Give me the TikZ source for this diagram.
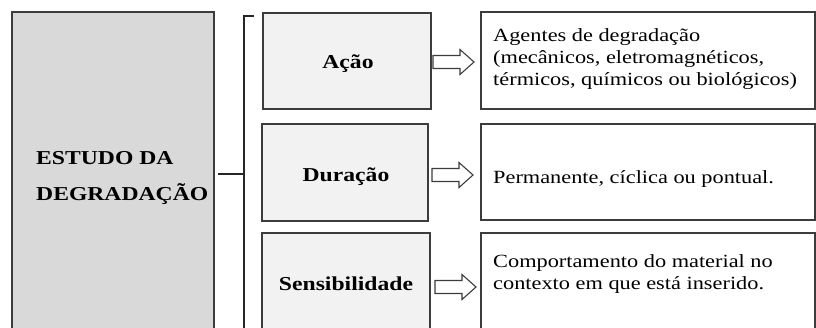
\documentclass[tikz,border=0pt]{standalone}
\usepackage{fontspec}
\setmainfont{Liberation Serif}[FakeStretch=1.2]
\definecolor{leftfill}{HTML}{D9D9D9}
\definecolor{midfill}{HTML}{F2F2F2}
\definecolor{edgecol}{HTML}{3C3C3C}
\begin{document}
\begin{tikzpicture}[x=1pt,y=-1pt,
  box/.style={draw=edgecol, line width=1.3pt, inner sep=0pt},
  mainbox/.style={box, fill=leftfill},
  catbox/.style={box, fill=midfill},
  descbox/.style={box, fill=white},
  cattext/.style={font=\fontsize{19.7}{23}\selectfont\bfseries, inner sep=0pt, anchor=base},
  maintext/.style={font=\fontsize{19.7}{36}\selectfont\bfseries, inner sep=0pt, align=left, anchor=base west},
  desctext/.style={font=\fontsize{18.6}{21.8}\selectfont, inner sep=0pt, align=left, anchor=base west},
  arrowline/.style={draw=edgecol, line width=1.1pt, fill=white, line join=miter},
  link/.style={draw=black!85, line width=1.3pt}]
\clip (0,0) rectangle (816,327);
% left box
\node[mainbox, minimum width=202pt, minimum height=350pt] (main) at (113,187) {};
\node[maintext] (mainlbl) at (36,200) {ESTUDO DA\\DEGRADAÇÃO};
% bracket
\coordinate (btop) at (244,16);
\coordinate (btick) at (254,16);
\coordinate (bbot) at (244,340);
\coordinate (bmid) at (244,174);
\coordinate (mainout) at (218,174);
\draw[link] (btick) -- (btop) -- (bbot);
\draw[link] (mainout) -- (bmid);
% category boxes
\node[catbox, minimum width=168pt, minimum height=96pt] (c1) at (347,61) {};
\node[catbox, minimum width=166pt, minimum height=97pt] (c2) at (345,172.5) {};
\node[catbox, minimum width=168pt, minimum height=110pt] (c3) at (346,288) {};
\node[cattext] (c1t) at (348,68) {Ação};
\node[cattext] (c2t) at (346,181) {Duração};
\node[cattext] (c3t) at (346,290) {Sensibilidade};
% description boxes
\node[descbox, minimum width=334pt, minimum height=97pt] (d1) at (648,60.5) {};
\node[descbox, minimum width=334pt, minimum height=96pt] (d2) at (648,172) {};
\node[descbox, minimum width=334pt, minimum height=110pt] (d3) at (648,288) {};
\node[desctext] (d1t) at (493,85) {Agentes de degradação\\(mecânicos, eletromagnéticos,\\térmicos, químicos ou biológicos)};
\node[desctext] (d2t) at (493,183) {Permanente, cíclica ou pontual.};
\node[desctext] (d3t) at (493,289) {Comportamento do material no\\contexto em que está inserido.};
% hollow arrows (tail points)
\coordinate (a1) at (433,62);
\coordinate (a2) at (432,175);
\coordinate (a3) at (435,287);
\foreach \a in {a1,a2,a3}
  \draw[arrowline] (\a) ++(0,-6.5) -- ++(27,0) -- ++(0,-6) -- ++(14,12.5)
        -- ++(-14,12.5) -- ++(0,-6) -- ++(-27,0) -- cycle;
\end{tikzpicture}
\end{document}
